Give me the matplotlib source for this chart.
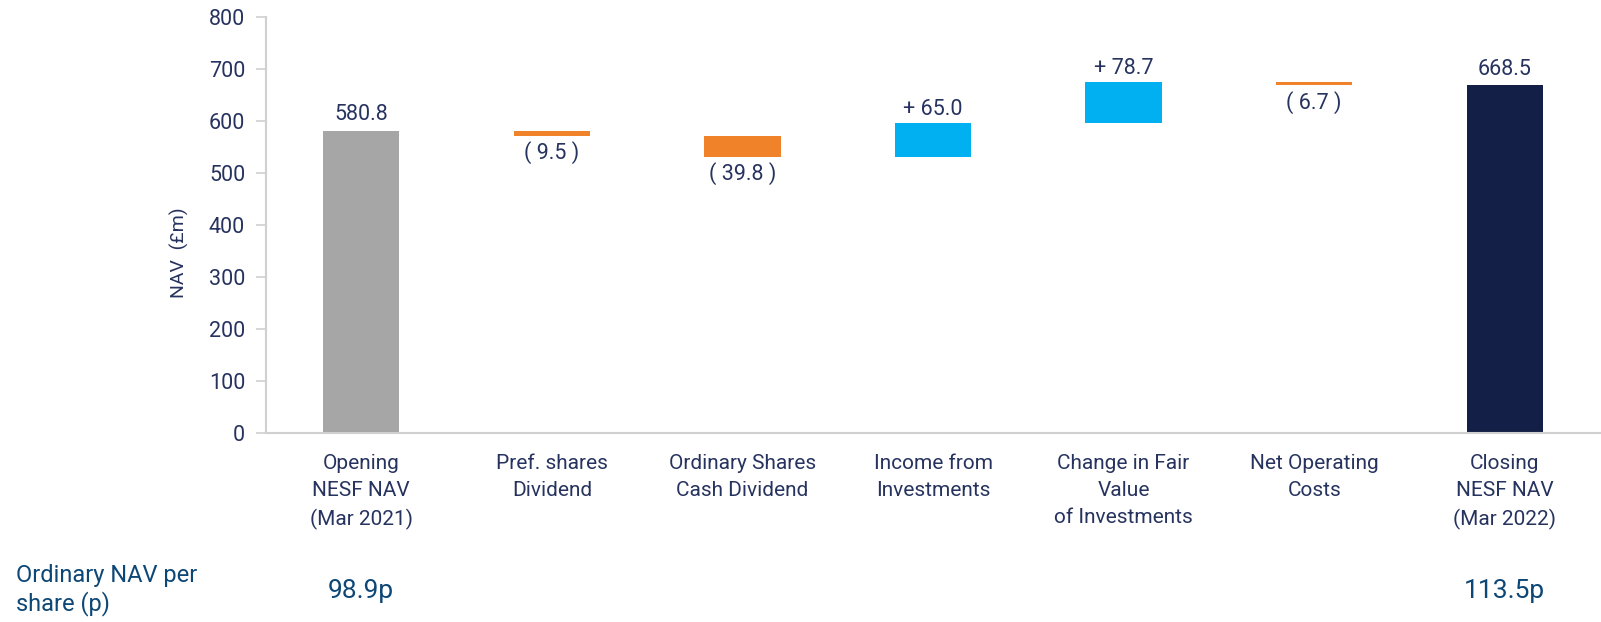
import matplotlib.pyplot as plt
import numpy as np

plt.rcParams['font.family'] = ['Roboto', 'DejaVu Sans']

# data
categories = ["Opening\nNESF NAV\n(Mar 2021)", "Pref. shares\nDividend",
              "Ordinary Shares\nCash Dividend", "Income from\nInvestments",
              "Change in Fair\nValue\nof Investments", "Net Operating\nCosts",
              "Closing\nNESF NAV\n(Mar 2022)"]
opening = 580.8
changes = [-9.5, -39.8, 65.0, 78.7, -6.7]
closing = 668.5
nav_per_share = ["98.9p", "", "", "", "", "", "113.5p"]

text_col = "#27335f"
grey = "#a6a6a6"
orange = "#f0822a"
cyan = "#00b0f0"
navy = "#131f46"

fig = plt.figure(figsize=(16.01, 6.22), dpi=100)
ax = fig.add_axes([266/1601, 1 - 433/622, 1334/1601, (433 - 17)/622])

x = np.arange(len(categories))
w = 0.4
fs = 15.5

# start / end bars
ax.bar(x[0], opening, w, color=grey)
ax.annotate(f"{opening:.1f}", (x[0], opening), xytext=(0, 4), textcoords="offset points",
            ha="center", va="bottom", fontsize=fs, color=text_col)

level = opening
for i, c in enumerate(changes):
    xi = x[i + 1]
    lo = min(level, level + c)
    col = cyan if c > 0 else orange
    ax.bar(xi, abs(c), w, bottom=lo, color=col)
    if c > 0:
        ax.annotate(f"+ {c:.1f}", (xi, level + c), xytext=(0, 2), textcoords="offset points",
                    ha="center", va="bottom", fontsize=fs, color=text_col)
    else:
        ax.annotate(f"( {abs(c):.1f} )", (xi, level + c), xytext=(0, -4), textcoords="offset points",
                    ha="center", va="top", fontsize=fs, color=text_col)
    level += c

ax.bar(x[-1], closing, w, color=navy)
ax.annotate(f"{closing:.1f}", (x[-1], closing), xytext=(0, 4), textcoords="offset points",
            ha="center", va="bottom", fontsize=fs, color=text_col)

ax.set_xlim(-0.5, 6.5)
ax.set_ylim(0, 800)
ax.set_yticks(range(0, 801, 100))
ax.set_xticks(x)
ax.set_xticklabels(categories, fontsize=15, color=text_col, linespacing=1.55)
ax.tick_params(axis='x', length=0, pad=15)
ax.tick_params(axis='y', labelsize=fs, labelcolor=text_col, color="#d0d0d0", length=7, width=1.2, pad=8)
for s in ["top", "right"]:
    ax.spines[s].set_visible(False)
for s in ["left", "bottom"]:
    ax.spines[s].set_color("#d0d0d0")
    ax.spines[s].set_linewidth(1.5)

fig.text(179/1601, 1 - 253/622, "NAV  (£m)", rotation=90, ha="center", va="center",
         fontsize=14, color=text_col)

# NAV per share row
fig.text(16/1601, 1 - 590/622, "Ordinary NAV per\nshare (p)", ha="left", va="center",
         fontsize=17, color="#0d4776", linespacing=1.25)
for i, s in enumerate(nav_per_share):
    if s:
        xf = (266 + (i + 0.5) * 1334 / 7) / 1601
        fig.text(xf, 1 - 591/622, s, ha="center", va="center", fontsize=19, color="#0d4776")

fig.savefig("out.png", dpi=100)
